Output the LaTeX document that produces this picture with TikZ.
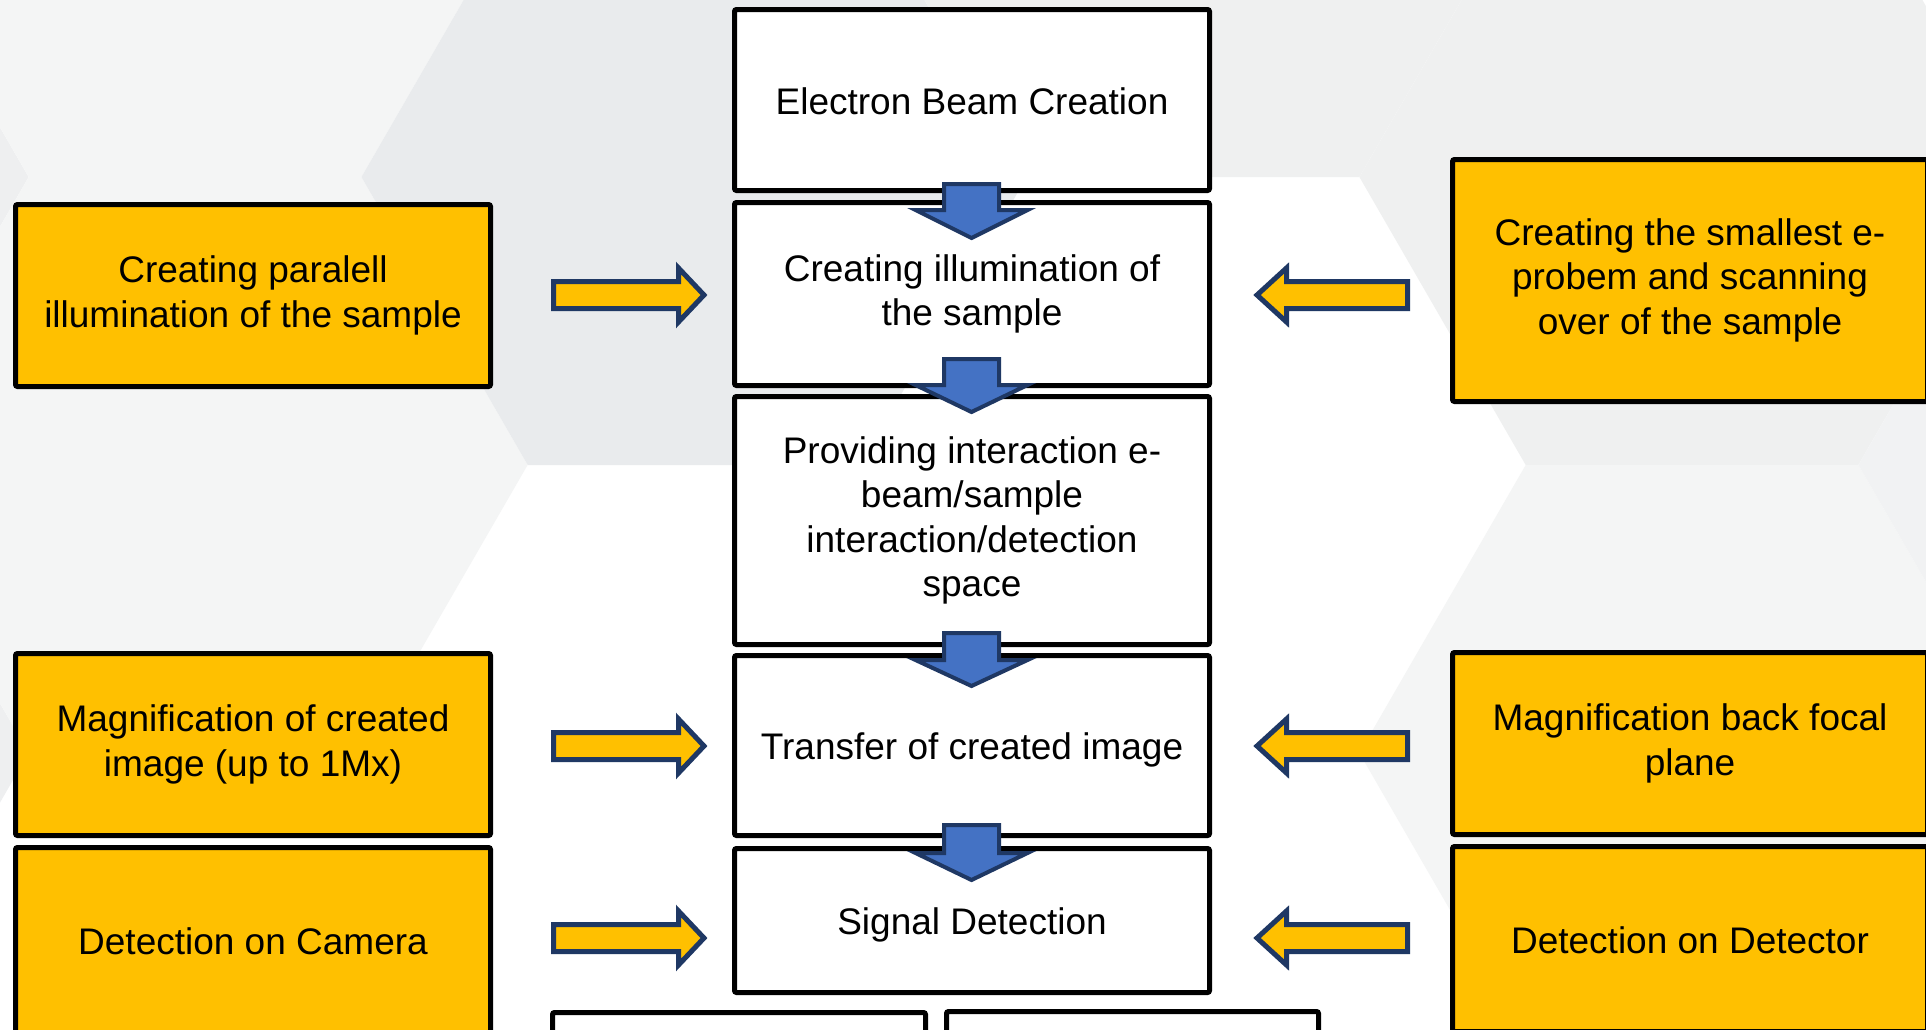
\documentclass[tikz,border=0pt]{standalone}
\usepackage{fontspec}
\setmainfont{Liberation Sans}
\definecolor{gold}{HTML}{FFC000}
\definecolor{navy}{HTML}{1F3864}
\definecolor{steel}{HTML}{4472C4}
\definecolor{hexL}{HTML}{F4F5F5}
\definecolor{hexM}{HTML}{EFF0F0}
\definecolor{hexD}{HTML}{E9EBED}
\definecolor{hexB}{HTML}{EEEFF0}
\definecolor{hexR}{HTML}{F1F2F3}

% fixed line metrics so every text block sits the same way in its box
\newcommand\tallstrut{\vrule height36pt depth8pt width0pt}
% flat-topped hexagon of the background tiling: centre x, centre y, colour
\newcommand\hexcell[3]{\fill[#3] (#1-332.6,#2) -- (#1-166.3,#2-288) -- (#1+166.3,#2-288)
  -- (#1+332.6,#2) -- (#1+166.3,#2+288) -- (#1-166.3,#2+288) -- cycle;}
% horizontal block arrow: tail x, head base x, tip x, centre y
\newcommand\feedarrow[4]{\filldraw[feed] (#1,#4-13.5) -- (#2,#4-13.5) -- (#2,#4-27)
  -- (#3,#4) -- (#2,#4+27) -- (#2,#4+13.5) -- (#1,#4+13.5) -- cycle;}
% downward block arrow: centre x, top y, head base y, tip y
\newcommand\flowarrow[4]{\filldraw[flow] (#1-27.5,#2) -- (#1+27.5,#2) -- (#1+27.5,#3)
  -- (#1+56,#3) -- (#1,#4) -- (#1-56,#3) -- (#1-27.5,#3) -- cycle;}

\tikzset{
  stage/.style={draw=black, line width=5pt, fill=white, rounded corners=2pt,
    align=center, inner sep=0pt, minimum width=475pt,
    execute at begin node=\tallstrut, execute at end node=\tallstrut},
  side/.style={stage, fill=gold},
  feed/.style={fill=gold, draw=navy, line width=5pt, line join=miter},
  flow/.style={fill=steel, draw=navy, line width=4pt, line join=miter},
}

\begin{document}
\begin{tikzpicture}[x=1pt, y=-1pt, font=\fontsize{37}{44.5}\selectfont]
\useasboundingbox (0,0) rectangle (1926,1029);
\clip (0,0) rectangle (1926,1029);
\fill[white] (0,0) rectangle (1926,1029);

% background tiling
\hexcell{-304}{177}{hexB}
\hexcell{-304}{753}{hexB}
\hexcell{195}{-111}{hexL}
\hexcell{195}{465}{hexL}
\hexcell{694}{177}{hexD}
\hexcell{1193}{-111}{hexM}
\hexcell{1692}{177}{hexM}
\hexcell{1692}{753}{hexL}
\hexcell{2191}{465}{hexR}

% main column
\node[stage, minimum height=181pt] (beam) at (972,100) {Electron Beam Creation};
\node[stage, minimum height=183pt] (illum) at (972,294) {Creating illumination of\\the sample};
\node[stage, minimum height=248pt] (inter) at (972,520.5) {Providing interaction e-\\beam/sample\\interaction/detection\\space};
\node[stage, minimum height=180pt] (trans) at (972,745.5) {Transfer of created image};
\node[stage, minimum height=144pt] (signal) at (972,920.5) {Signal Detection};

% lower boxes
\node[stage, minimum width=373pt, minimum height=200pt] (outa) at (739,1112.5) {};
\node[stage, minimum width=372pt, minimum height=200pt] (outb) at (1132.5,1111.5) {};

% left column
\node[side, minimum height=182pt] (parallel) at (253,295.5) {Creating paralell\\illumination of the sample};
\node[side, minimum height=182pt] (magimg) at (253,744.5) {Magnification of created\\image (up to 1Mx)};
\node[side, minimum height=185pt] (camera) at (253,940) {Detection on Camera};

% right column
\node[side, minimum height=242pt] (probe) at (1690,280.5) {Creating the smallest e-\\probem and scanning\\over of the sample};
\node[side, minimum height=182pt] (magbfp) at (1690,743.5) {Magnification back focal\\plane};
\node[side, minimum height=185pt] (detector) at (1690,939) {Detection on Detector};

% arrows down the main column
\flowarrow{971.5}{184}{210}{238}
\flowarrow{971.5}{359}{385}{412}
\flowarrow{971.5}{633}{660}{686}
\flowarrow{971.5}{825}{853}{880}

% arrows from the side columns
\feedarrow{553.5}{678.5}{704}{295}
\feedarrow{553.5}{678.5}{704}{746}
\feedarrow{553.5}{678.5}{704}{938}
\feedarrow{1407.5}{1286.5}{1257}{295}
\feedarrow{1407.5}{1286.5}{1257}{746}
\feedarrow{1407.5}{1286.5}{1257}{938}
\end{tikzpicture}
\end{document}
